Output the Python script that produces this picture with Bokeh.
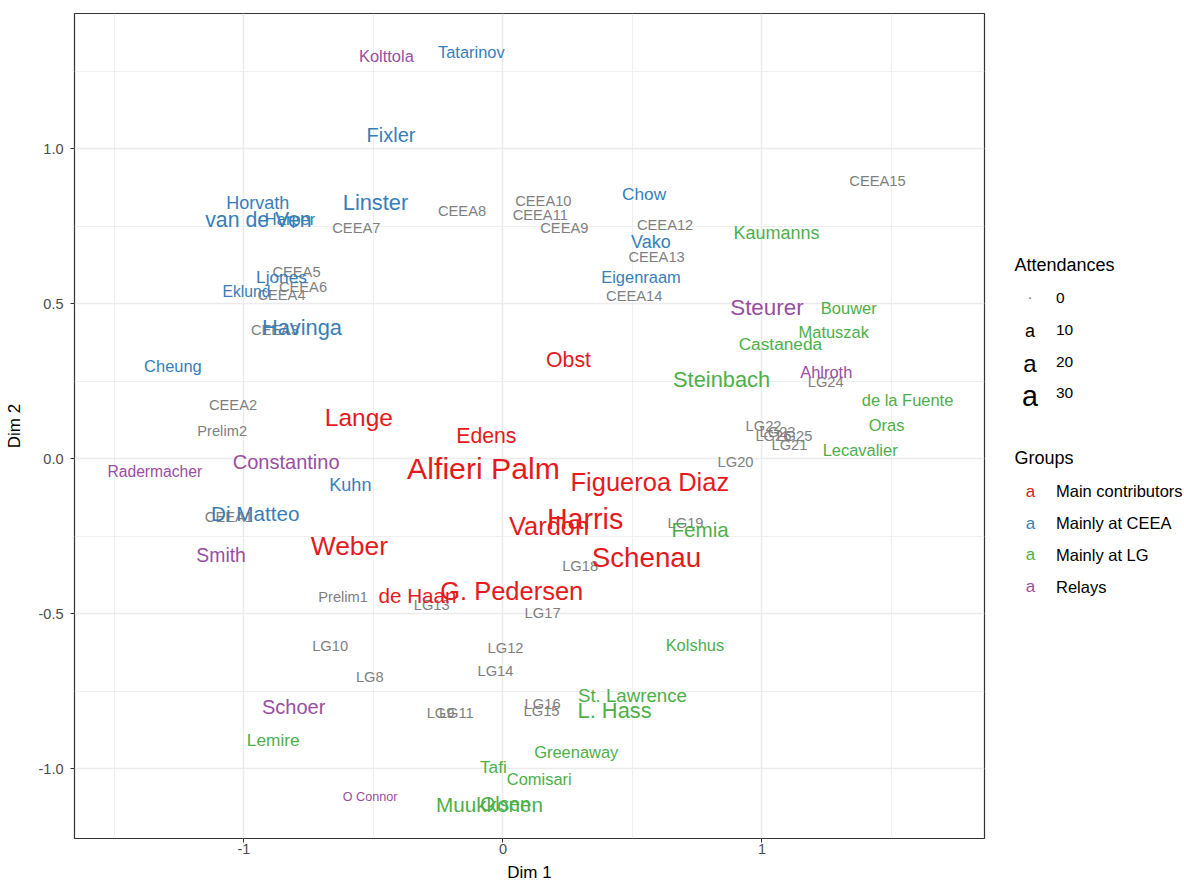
import math
from bokeh.plotting import figure
from bokeh.models import ColumnDataSource, Range1d, FixedTicker
from bokeh.layouts import row
from bokeh.embed import file_html
from bokeh.resources import INLINE
from bokeh.core.properties import value

FONT = "Liberation Sans"

# ---- participants (names), their group, coordinates and attendances ----
names = ["Lange", "Edens", "Obst", "Alfieri Palm", "Figueroa Diaz", "Vardon", "Harris",
         "Schenau", "Weber", "G. Pedersen", "de Haan",
         "Tatarinov", "Fixler", "Horvath", "van de Ven", "Harper", "Linster", "Chow", "Vako",
         "Eigenraam", "Ljones", "Eklund", "Havinga", "Cheung", "Kuhn", "Di Matteo",
         "Kaumanns", "Bouwer", "Matuszak", "Castaneda", "Steinbach", "de la Fuente", "Oras",
         "Lecavalier", "Femia", "Kolshus", "St. Lawrence", "L. Hass", "Greenaway", "Tafi",
         "Comisari", "Muukkonen", "Olsen", "Lemire",
         "Kolttola", "Steurer", "Ahlroth", "Radermacher", "Constantino", "Smith", "Schoer",
         "O Connor"]
groups = (["Main contributors"] * 11 + ["Mainly at CEEA"] * 15 +
          ["Mainly at LG"] * 18 + ["Relays"] * 8)
dim1 = [-0.556, -0.064, 0.253, -0.075, 0.567, 0.178, 0.317, 0.554, -0.593, 0.034, -0.330,
        -0.122, -0.432, -0.947, -0.944, -0.822, -0.492, 0.545, 0.571, 0.533, -0.855, -0.990,
        -0.776, -1.274, -0.589, -0.956,
        1.056, 1.335, 1.277, 1.071, 0.844, 1.562, 1.481, 1.379, 0.761, 0.741, 0.500, 0.431,
        0.283, -0.037, 0.140, -0.052, 0.010, -0.887,
        -0.450, 1.019, 1.248, -1.344, -0.837, -1.088, -0.808, -0.513]
dim2 = [0.131, 0.074, 0.318, -0.033, -0.076, -0.219, -0.195, -0.318, -0.283, -0.428, -0.442,
        1.311, 1.042, 0.825, 0.770, 0.771, 0.827, 0.852, 0.698, 0.585, 0.587, 0.539, 0.422,
        0.300, -0.084, -0.178,
        0.727, 0.486, 0.407, 0.370, 0.254, 0.189, 0.109, 0.026, -0.230, -0.600, -0.765,
        -0.813, -0.947, -0.994, -1.035, -1.116, -1.116, -0.907,
        1.298, 0.486, 0.278, -0.042, -0.012, -0.310, -0.802, -1.093]
attendances = [21, 15, 15, 34, 23, 23, 30, 28, 25, 23, 14,
               8, 13, 10, 15, 8, 16, 9, 10, 8, 9, 7, 16, 8, 10, 14,
               10, 8, 8, 9, 16, 8, 8, 8, 14, 8, 11, 16, 8, 9, 8, 14, 12, 9,
               8, 17, 8, 7, 13, 12, 13, 4]

# ---- sessions ----
sessions = ["CEEA1", "CEEA2", "CEEA3", "CEEA4", "CEEA5", "CEEA6", "CEEA7", "CEEA8", "CEEA9",
            "CEEA10", "CEEA11", "CEEA12", "CEEA13", "CEEA14", "CEEA15", "Prelim1", "Prelim2",
            "LG8", "LG9", "LG10", "LG11", "LG12", "LG13", "LG14", "LG15", "LG16", "LG17",
            "LG18", "LG19", "LG20", "LG21", "LG22", "LG23", "LG24", "LG25", "LG26"]
sess_dim1 = [-1.058, -1.042, -0.880, -0.855, -0.797, -0.772, -0.566, -0.158, 0.237,
             0.156, 0.144, 0.626, 0.593, 0.507, 1.446, -0.617, -1.084,
             -0.514, -0.241, -0.667, -0.180, 0.010, -0.275, -0.029, 0.149, 0.153, 0.153,
             0.298, 0.705, 0.898, 1.106, 1.006, 1.060, 1.246, 1.125, 1.044]
sess_dim2 = [-0.189, 0.171, 0.415, 0.526, 0.601, 0.553, 0.745, 0.800, 0.744,
             0.832, 0.787, 0.752, 0.649, 0.524, 0.894, -0.447, 0.090,
             -0.705, -0.820, -0.605, -0.820, -0.612, -0.474, -0.687, -0.813, -0.791, -0.498,
             -0.347, -0.209, -0.012, 0.042, 0.106, 0.087, 0.246, 0.074, 0.071]

group_levels = ["Main contributors", "Mainly at CEEA", "Mainly at LG", "Relays"]
group_colors = ["#E41A1C", "#377EB8", "#4DAF4A", "#984EA3"]
size_breaks = [0, 10, 20, 30]

X_TICKS = [-1, 0, 1]
Y_TICKS = [-1, -0.5, 0, 0.5, 1]


def size_px(a):
    # area-like size scale (sqrt), as in ggplot's scale_size
    return 3.5 + 4.585 * math.sqrt(a)


color_of = dict(zip(group_levels, group_colors))

H = 885
TOP = 13
BOTTOM_BORDER = 47

p = figure(width=990, height=H,
           x_range=Range1d(-1.654, 1.859), y_range=Range1d(-1.2258, 1.4355),
           output_backend="svg", toolbar_location=None,
           min_border_left=74, min_border_right=6, min_border_top=TOP, min_border_bottom=0)

p.background_fill_color = "white"
p.outline_line_color = "#333333"
p.outline_line_width = 1.2

p.xaxis.ticker = FixedTicker(ticks=X_TICKS, minor_ticks=[-1.5, -0.5, 0.5, 1.5])
p.yaxis.ticker = FixedTicker(ticks=Y_TICKS, minor_ticks=[-1.25, -0.75, -0.25, 0.25, 0.75, 1.25])
p.xaxis.major_label_overrides = {t: "%d" % t for t in X_TICKS}
p.yaxis.major_label_overrides = {t: "%.1f" % t for t in Y_TICKS}

for ax in (p.xaxis, p.yaxis):
    ax.axis_line_color = None
    ax.major_tick_line_color = "#333333"
    ax.major_tick_in = 0
    ax.major_tick_out = 4
    ax.minor_tick_line_color = None
    ax.major_label_text_color = "#4D4D4D"
    ax.major_label_text_font = FONT
    ax.major_label_text_font_size = "14.5px"
    ax.axis_label_text_font = FONT
    ax.axis_label_text_font_size = "17px"
    ax.axis_label_text_font_style = "normal"
    ax.axis_label_text_color = "black"

p.xaxis.axis_label = "Dim 1"
p.yaxis.axis_label = "Dim 2"
p.xaxis.major_label_standoff = 1
p.xaxis.axis_label_standoff = 6
p.yaxis.major_label_standoff = 7
p.yaxis.axis_label_standoff = 12

p.grid.grid_line_color = "#EBEBEB"
p.grid.grid_line_width = 1.5
p.grid.minor_grid_line_color = "#EBEBEB"
p.grid.minor_grid_line_width = 0.8

# sessions (grey, constant size)
sess_src = ColumnDataSource(dict(x=sess_dim1, y=sess_dim2, t=sessions))
p.text(x="x", y="y", text="t", source=sess_src, text_color="#7F7F7F",
       text_font=value(FONT), text_font_size="14.7px",
       text_align="center", text_baseline="middle")

# participants (coloured by group, sized by attendances)
src = ColumnDataSource(dict(
    x=dim1, y=dim2, t=names,
    c=[color_of[g] for g in groups],
    s=["%.2fpx" % size_px(a) for a in attendances]))
p.text(x="x", y="y", text="t", source=src, text_color="c",
       text_font=value(FONT), text_font_size="s",
       text_align="center", text_baseline="middle")

# ---- legend panel (y in page pixels, frame aligned with the main frame) ----
lg = figure(width=194, height=H, x_range=Range1d(0, 194),
            y_range=Range1d(H - BOTTOM_BORDER, TOP),
            output_backend="svg", toolbar_location=None, min_border=0,
            min_border_top=TOP, min_border_bottom=BOTTOM_BORDER,
            x_axis_location=None, y_axis_location=None)
lg.grid.visible = False
lg.outline_line_color = None

lg.text(x=[24], y=[264], text=["Attendances"], text_font=value(FONT),
        text_font_size="18px", text_color="black", text_align="left", text_baseline="middle")
size_y = [297.7, 330, 362.7, 395]
lg.text(x=[39.5] * 4, y=size_y, text=["a"] * 4, text_font=value(FONT),
        text_font_size=["%.2fpx" % size_px(b) for b in size_breaks], text_color="black",
        text_align="center", text_baseline="middle")
lg.text(x=[65.5] * 4, y=[297, 329, 361, 392.7], text=[str(b) for b in size_breaks],
        text_font=value(FONT), text_font_size="15.5px", text_color="black",
        text_align="left", text_baseline="middle")

lg.text(x=[24], y=[457.3], text=["Groups"], text_font=value(FONT),
        text_font_size="18px", text_color="black", text_align="left", text_baseline="middle")
grp_y = [491, 522.7, 554.4, 586.1]
lg.text(x=[40] * 4, y=grp_y, text=["a"] * 4, text_font=value(FONT), text_font_size="17px",
        text_color=group_colors, text_align="center", text_baseline="middle")
lg.text(x=[65.5] * 4, y=[490, 522, 554, 586], text=group_levels, text_font=value(FONT),
        text_font_size="16.5px", text_color="black", text_align="left", text_baseline="middle")

layout = row(p, lg)
open("out.html", "w").write(file_html(layout, INLINE))
